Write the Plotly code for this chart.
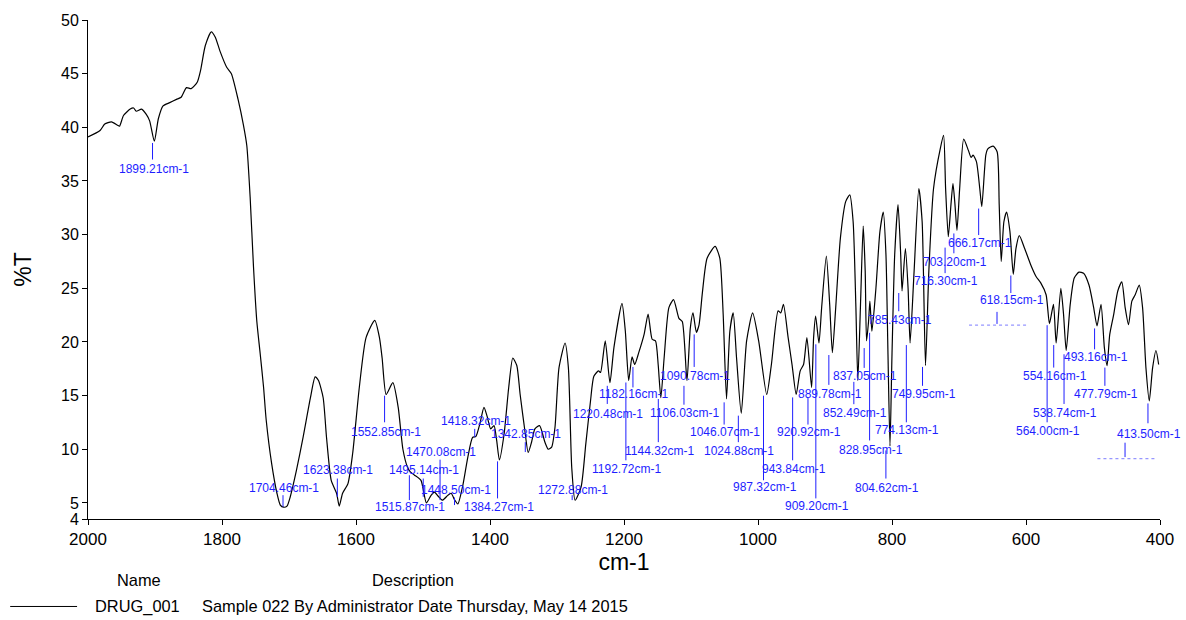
import plotly.graph_objects as go

# ---------------- data ----------------
wavenumber = [
    2000, 1982, 1975, 1965, 1956, 1953, 1947, 1937, 1932, 1928, 1920, 1913, 1908, 1901, 1895,
    1888, 1878, 1868, 1861, 1853, 1846, 1837, 1832, 1825, 1816, 1810, 1803, 1793, 1786, 1776,
    1768, 1763, 1758, 1753, 1748, 1743, 1738, 1734, 1726, 1718, 1713, 1708, 1703, 1698, 1689,
    1679, 1668, 1661, 1656, 1649, 1644, 1637, 1629, 1625, 1620, 1612, 1605, 1595, 1585, 1572,
    1565, 1561, 1555, 1545, 1537, 1530, 1523, 1519, 1513, 1503, 1495, 1488, 1483, 1477, 1471,
    1463, 1458, 1453, 1448, 1441, 1433, 1426, 1421, 1415, 1409, 1404, 1399, 1394, 1390, 1386,
    1379, 1372, 1366, 1360, 1355, 1348, 1343, 1338, 1333, 1326, 1318, 1313, 1308, 1303, 1297,
    1288, 1283, 1278, 1273, 1264, 1257, 1250, 1245, 1238, 1235, 1228, 1221, 1215, 1203, 1198,
    1193, 1188, 1184, 1178, 1170, 1164, 1158, 1153, 1149, 1145, 1140, 1133, 1126, 1118, 1113,
    1106, 1101, 1097, 1092, 1088, 1083, 1076, 1064, 1057, 1052, 1047, 1042, 1037, 1032, 1025,
    1017, 1008, 999, 987, 980, 970, 966, 962, 955, 949, 943, 937, 932, 927, 920,
    917, 914, 909, 905, 898, 893, 889, 884, 877, 869, 863, 858, 854, 851, 847,
    843, 840, 838, 835, 833, 830, 824, 818, 813, 809, 806, 803, 800, 796, 791,
    787, 785, 780, 776, 773, 767, 760, 755, 750, 745, 738, 728, 723, 720, 716,
    712, 709, 706, 703, 699, 693, 686, 682, 679, 674, 669, 666, 660, 657, 649,
    643, 640, 637, 633, 629, 624, 619, 615, 610, 602, 593, 585, 578, 570, 565,
    559, 555, 548, 544, 540, 534, 528, 521, 514, 506, 499, 494, 488, 483, 479,
    475, 469, 463, 457, 452, 447, 442, 437, 431, 426, 421, 416, 411, 406, 402,
]
transmittance = [
    39.1, 39.7, 40.3, 40.5, 40.2, 40.1, 41.1, 41.7, 41.8, 41.5, 41.7, 41.2, 40.6, 38.7, 40.8,
    42.0, 42.3, 42.6, 42.8, 43.7, 43.6, 44.2, 45.3, 47.6, 48.9, 48.4, 47.1, 45.6, 45.0, 42.6,
    40.2, 38.3, 33.5, 27.0, 21.9, 18.9, 15.8, 12.7, 8.7, 5.9, 4.8, 4.6, 4.7, 5.6, 8.0,
    11.1, 14.8, 16.75, 16.4, 14.8, 11.1, 7.1, 5.9, 4.7, 5.9, 6.8, 9.6, 15.8, 20.4, 22.0,
    20.4, 18.5, 15.1, 16.2, 13.9, 10.0, 8.3, 7.9, 7.6, 7.1, 5.0, 5.7, 6.0, 5.6, 5.25,
    5.7, 5.9, 5.3, 4.9, 6.5, 9.3, 11.1, 11.2, 12.4, 13.9, 13.0, 11.9, 12.2, 10.8, 9.0,
    11.4, 15.8, 18.5, 17.8, 15.1, 11.75, 9.7, 10.65, 11.9, 12.2, 10.65, 10.0, 10.2, 12.05, 17.6,
    19.9, 17.6, 8.3, 5.25, 6.5, 10.5, 14.5, 16.8, 17.3, 17.15, 20.1, 16.2, 19.5, 23.6, 21.0,
    16.4, 18.6, 17.9, 19.0, 20.7, 22.6, 20.25, 20.1, 17.9, 14.8, 18.6, 23.2, 23.95, 22.2, 21.9,
    16.4, 21.3, 22.7, 20.9, 21.6, 24.6, 27.8, 28.9, 27.8, 22.6, 14.7, 21.0, 22.7, 18.5, 13.35,
    20.1, 22.7, 20.1, 15.1, 17.9, 22.9, 22.7, 23.5, 20.4, 17.8, 15.1, 17.3, 17.9, 20.4, 15.76,
    20.4, 22.4, 19.9, 23.2, 28.0, 23.5, 19.0, 23.2, 29.7, 33.1, 33.7, 31.2, 23.5, 16.4, 23.5,
    30.8, 26.6, 20.1, 21.9, 23.8, 21.0, 25.0, 30.3, 32.1, 28.1, 18.85, 10.3, 18.85, 28.1, 32.8,
    28.1, 24.75, 28.7, 25.0, 19.9, 26.6, 34.3, 31.2, 17.8, 26.6, 34.3, 38.0, 39.24, 34.3, 29.8,
    32.8, 34.76, 32.8, 30.4, 34.3, 38.9, 37.85, 37.2, 37.4, 36.8, 34.3, 32.6, 37.4, 38.0, 38.25,
    37.7, 32.8, 27.5, 31.2, 32.1, 30.3, 26.3, 28.7, 29.9, 28.7, 27.2, 26.1, 25.5, 24.4, 21.7,
    23.5, 19.9, 25.0, 22.6, 19.2, 23.5, 25.95, 26.5, 26.4, 25.3, 23.2, 21.5, 23.5, 19.45, 17.8,
    20.7, 22.6, 24.75, 25.6, 23.2, 21.6, 23.8, 24.4, 25.3, 23.2, 17.6, 14.5, 17.6, 19.2, 17.9,
]

# labelled peaks (cm-1)
peak_wn = [1899.21, 1704.46, 1623.38, 1552.85, 1515.87, 1495.14, 1470.08, 1448.50, 1418.32,
           1384.27, 1342.85, 1272.88, 1220.48, 1182.16, 1192.72, 1144.32, 1106.03, 1090.78,
           1046.07, 1024.88, 987.32, 943.84, 920.92, 909.20, 889.78, 852.49, 837.05, 828.95,
           804.62, 785.43, 774.13, 749.95, 716.30, 703.20, 666.17, 618.15, 564.00, 554.16,
           538.74, 493.16, 477.79, 413.50]

x_ticks = [2000, 1800, 1600, 1400, 1200, 1000, 800, 600, 400]
y_tickvals = [3.5, 5, 10, 15, 20, 25, 30, 35, 40, 45, 50]
y_ticktext = ["4", "5", "10", "15", "20", "25", "30", "35", "40", "45", "50"]

sample_name = "DRUG_001"
sample_desc = "Sample 022 By Administrator Date Thursday, May 14 2015"

# ---------------- label layout (text y, marker line y0/y1, in %T) ----------------
label_text_y = [36.13, 6.40, 8.04, 11.59, 4.58, 8.04, 9.74, 6.18, 12.67,
                4.58, 11.44, 6.18, 13.29, 15.14, 8.20, 9.83, 13.35, 16.84,
                11.59, 9.83, 6.44, 8.20, 11.59, 4.70, 15.14, 13.35, 16.84, 9.96,
                6.35, 22.09, 11.75, 15.14, 25.70, 27.49, 29.19, 23.94, 11.68, 16.84,
                13.35, 18.63, 15.14, 11.44]
label_line_y0 = [38.54, 5.72, 7.27, 14.99, 7.58, 7.27, 9.03, 5.50, 11.90,
                 8.87, 10.66, 5.72, 15.91, 17.67, 16.22, 14.68, 15.91, 20.70,
                 14.37, 13.13, 14.99, 14.83, 14.83, 19.78, 18.78, 16.28, 19.43, 20.85,
                 9.89, 24.56, 19.71, 17.67, 28.79, 30.11, 32.43, 26.19, 21.56, 19.71,
                 18.85, 21.26, 17.61, 14.27]
label_line_y1 = [37.00, 4.64, 5.57, 12.51, 5.26, 5.57, 5.26, 4.80, 11.12,
                 5.42, 9.74, 5.26, 14.22, 15.76, 8.97, 10.66, 14.15, 17.67,
                 12.30, 10.66, 7.11, 8.97, 12.30, 5.42, 16.00, 14.20, 17.58, 10.82,
                 7.27, 22.86, 12.51, 15.91, 26.41, 28.26, 29.96, 24.56, 12.51, 17.61,
                 14.22, 19.31, 15.91, 12.42]

# hidden (dotted) labels
hidden_wn = [638.8, 447.7]
hidden_span = [(685.0, 596.6), (493.4, 405.5)]
hidden_y = [21.56, 9.12]
hidden_tick = [(22.80, 21.68), (10.61, 9.27)]

LABEL_BLUE = "rgb(30,30,255)"
FONT = "Liberation Sans, Arial, sans-serif"

fig = go.Figure()
fig.add_trace(go.Scatter(
    x=wavenumber, y=transmittance, mode="lines",
    line=dict(color="black", width=1.2, shape="spline", smoothing=0.6),
    name=sample_name, showlegend=False, hoverinfo="x+y",
))

shapes = []
annotations = []
for wn, ty, y0, y1 in zip(peak_wn, label_text_y, label_line_y0, label_line_y1):
    shapes.append(dict(type="line", xref="x", yref="y", xsizemode="pixel", xanchor=wn,
                       x0=-3, x1=-3, y0=y0, y1=y1,
                       line=dict(color=LABEL_BLUE, width=1)))
    annotations.append(dict(x=wn, y=ty, xref="x", yref="y", text=f"{wn:.2f}cm-1",
                            showarrow=False, xshift=-2,
                            font=dict(family=FONT, size=12, color=LABEL_BLUE)))

for wn, (xa, xb), yy, (t0, t1) in zip(hidden_wn, hidden_span, hidden_y, hidden_tick):
    shapes.append(dict(type="line", xref="x", yref="y", x0=xa, x1=xb, y0=yy, y1=yy,
                       line=dict(color="rgb(150,150,255)", width=1.2, dash="dot")))
    shapes.append(dict(type="line", xref="x", yref="y", xsizemode="pixel", xanchor=wn,
                       x0=-3, x1=-3, y0=t0, y1=t1,
                       line=dict(color=LABEL_BLUE, width=1)))

# bottom "legend" table
legend_font = dict(family=FONT, size=16.4, color="black")
annotations += [
    dict(x=0.0475, y=-0.1215, xref="paper", yref="paper", text="Name", showarrow=False,
         xanchor="center", yanchor="middle", font=legend_font),
    dict(x=0.3035, y=-0.1215, xref="paper", yref="paper", text="Description", showarrow=False,
         xanchor="center", yanchor="middle", font=legend_font),
    dict(x=0.0466, y=-0.1753, xref="paper", yref="paper", text=sample_name, showarrow=False,
         xanchor="center", yanchor="middle", font=legend_font),
    dict(x=0.1043, y=-0.1753, xref="paper", yref="paper", text=sample_desc, showarrow=False,
         xanchor="left", yanchor="middle", font=legend_font),
]
shapes.append(dict(type="line", xref="paper", yref="paper", x0=-0.0726, x1=-0.0102,
                   y0=-0.1753, y1=-0.1753, line=dict(color="black", width=1)))

fig.update_layout(
    width=1186, height=620,
    margin=dict(l=88, r=24, t=17, b=101),
    plot_bgcolor="white", paper_bgcolor="white",
    font=dict(family=FONT, color="black"),
    shapes=shapes, annotations=annotations,
    showlegend=False,
)
fig.update_xaxes(
    range=[2000, 400], tickvals=x_ticks, ticks="outside", ticklen=5, tickcolor="black",
    showline=True, linecolor="black", linewidth=1, showgrid=False, zeroline=False,
    tickfont=dict(family=FONT, size=17, color="black"),
    title=dict(text="cm-1", font=dict(family=FONT, size=23, color="black"), standoff=4),
)
fig.update_yaxes(
    range=[3.5, 50], tickvals=y_tickvals, ticktext=y_ticktext, ticks="outside", ticklen=5,
    tickcolor="black", showline=True, linecolor="black", linewidth=1, showgrid=False,
    zeroline=False, tickfont=dict(family=FONT, size=16, color="black"),
    title=dict(text="%T", font=dict(family=FONT, size=23, color="black"), standoff=22),
)

fig.write_html("out.html")
